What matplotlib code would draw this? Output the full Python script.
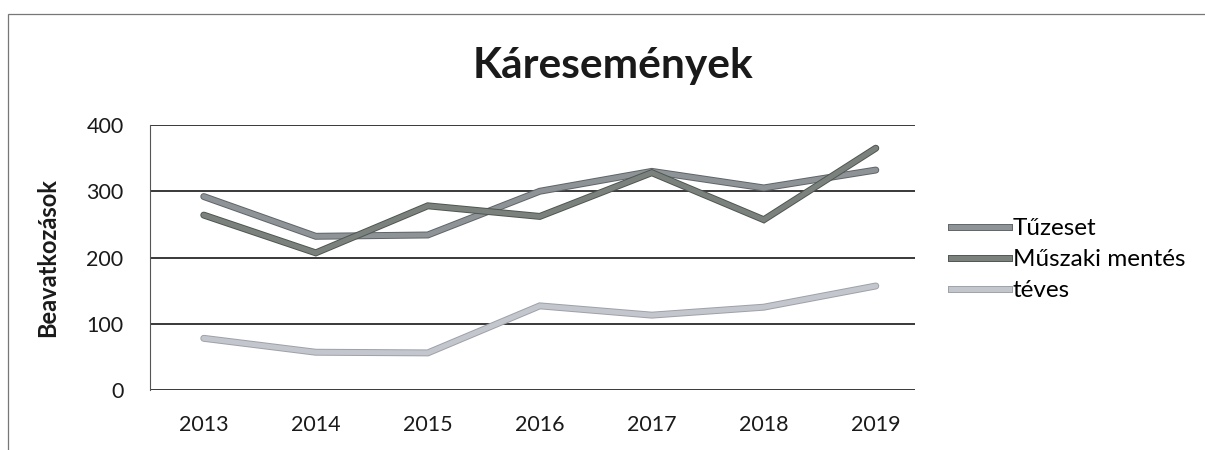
import matplotlib
matplotlib.use("Agg")
import matplotlib.pyplot as plt
import matplotlib.patheffects as pe
from matplotlib.lines import Line2D
from matplotlib.patches import Rectangle

years = ["2013", "2014", "2015", "2016", "2017", "2018", "2019"]
tuzeset = [292, 232, 234, 300, 330, 305, 332]
muszaki = [264, 207, 278, 262, 328, 257, 365]
teves = [78, 57, 56, 127, 113, 125, 157]
series_names = ["Tűzeset", "Műszaki mentés", "téves"]
yticks = [0, 100, 200, 300, 400]

plt.rcParams['font.family'] = ['Lato', 'DejaVu Sans']

fig = plt.figure(figsize=(12.05, 4.5), dpi=100)
ax = fig.add_axes([150/1205, 1-390/450, (915-150)/1205, (390-125)/450])

colors = ["#8d9396", "#7b827e", "#c3c6cc"]
edges = ["#5f6466", "#4f5551", "#9da1a8"]
x = list(range(len(years)))
for vals, c, e in zip([tuzeset, muszaki, teves], colors, edges):
    ax.plot(x, vals, color=c, lw=3.6, solid_capstyle='round', solid_joinstyle='miter',
            path_effects=[pe.Stroke(linewidth=5.0, foreground=e), pe.Normal()], zorder=3)

ax.set_ylim(0, 400)
ax.set_xlim(-0.48, 6.35)
ax.set_yticks(yticks)
ax.set_xticks(x)
ax.set_xticklabels(years)
ax.yaxis.grid(True, color="#2a2a2a", lw=1.3)
ax.set_axisbelow(True)
for s in ["top", "right", "bottom"]:
    ax.spines[s].set_visible(False)
ax.spines["left"].set_color("#555555")
ax.spines["left"].set_linewidth(0.8)
ax.tick_params(axis='both', length=0, labelsize=15.5, colors="#1a1a1a")
ax.tick_params(axis='x', pad=18)
ax.tick_params(axis='y', pad=19)
ax.set_ylabel("Beavatkozások", fontsize=17, fontweight='bold', color="#1a1a1a")
ax.yaxis.set_label_coords((59-150)/(915-150), 0.5)

fig.text(613/1205, 1-66/450, "Káresemények", ha='center', va='center',
         fontsize=30.5, fontweight='bold', color="#1a1a1a")

handles = [Line2D([0], [0], color=c, lw=3.6,
                  path_effects=[pe.Stroke(linewidth=5.0, foreground=e), pe.Normal()])
           for c, e in zip(colors, edges)]
leg = fig.legend(handles, series_names, loc='upper left', bbox_to_anchor=(951/1205, 1-218/450),
                 frameon=False, fontsize=17.5, handlelength=2.4, handletextpad=0.15,
                 labelspacing=0.42, borderaxespad=0, borderpad=0)

fig.patches.append(Rectangle((8/1205, -0.1), 1.2, 1-14/450+0.1, transform=fig.transFigure,
                             fill=False, edgecolor="#777777", lw=0.9))

fig.savefig("out.png", dpi=100)
